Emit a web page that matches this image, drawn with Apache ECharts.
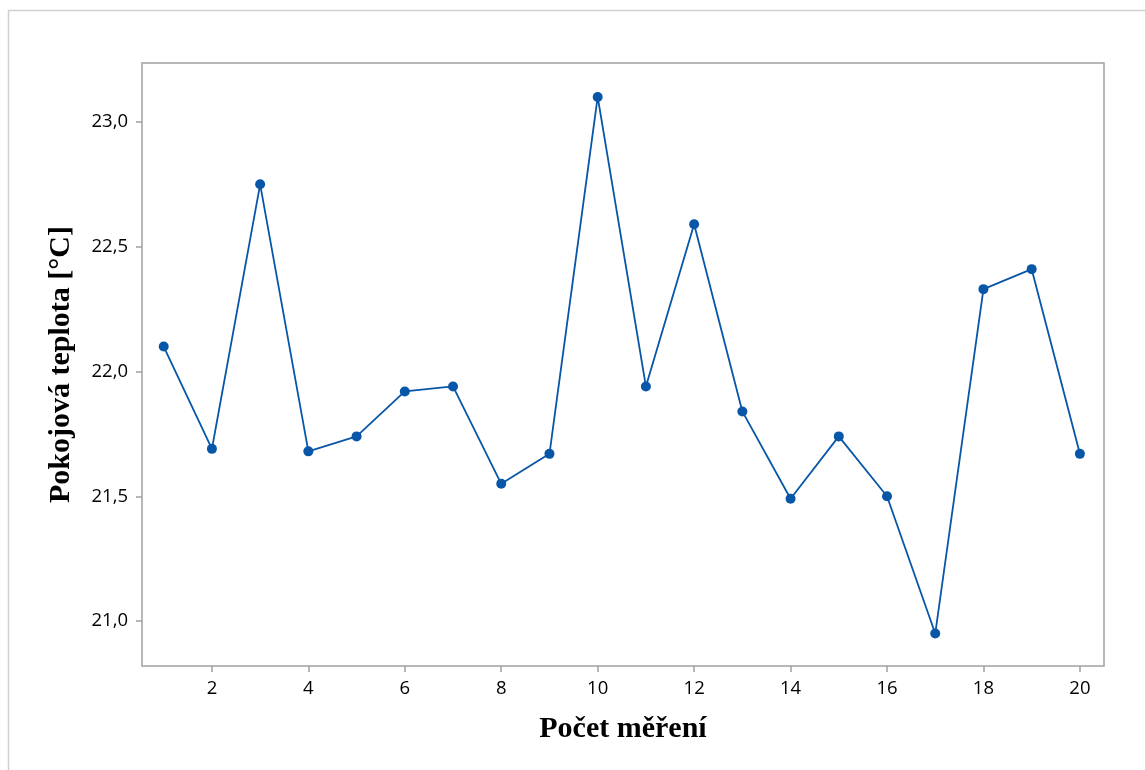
<!DOCTYPE html>
<html>
<head>
<meta charset="utf-8">
<script src="https://cdn.jsdelivr.net/npm/echarts@6/dist/echarts.min.js"></script>
<style>html,body{margin:0;padding:0;background:#fff}#c{width:1145px;height:770px}</style>
</head>
<body>
<div id="c"></div>
<script>
const xValues = [1,2,3,4,5,6,7,8,9,10,11,12,13,14,15,16,17,18,19,20];
const temps = [22.10,21.69,22.75,21.68,21.74,21.92,21.94,21.55,21.67,23.10,21.94,22.59,21.84,21.49,21.74,21.50,20.95,22.33,22.41,21.67];
const xTicks = [2,4,6,8,10,12,14,16,18,20];
const yTicks = [21.0,21.5,22.0,22.5,23.0];
const xTitle = 'Počet měření';
const yTitle = 'Pokojová teplota [°C]';

const chart = echarts.init(document.getElementById('c'));
const axisGray = '#a0a0a0';
const data = xValues.map((x,i)=>[x,temps[i]]);
const tickFont = {color:'#000',fontSize:18.5,fontWeight:500,fontFamily:'Open Sans, Noto Sans, sans-serif'};
const titleFont = {fontFamily:'Liberation Serif, Times New Roman, serif',fontWeight:'bold',fontSize:30,color:'#000'};
chart.setOption({
  animation:false,
  backgroundColor:'#fff',
  graphic:[{type:'rect',shape:{x:8.5,y:10.5,width:1200,height:800},style:{fill:'none',stroke:'#d0d0d0',lineWidth:1.5},silent:true}],
  grid:{left:142,top:63,right:41,bottom:104,show:true,borderColor:axisGray,borderWidth:1.5,backgroundColor:'transparent'},
  xAxis:{type:'value',min:0.55,max:20.5,
    axisLine:{show:false},splitLine:{show:false},
    axisTick:{show:true,length:6,lineStyle:{color:axisGray,width:1.5},customValues:xTicks},
    axisLabel:Object.assign({customValues:xTicks,margin:13},tickFont),
    name:xTitle,nameLocation:'middle',nameGap:48,
    nameTextStyle:titleFont},
  yAxis:{type:'value',min:20.82,max:23.236,
    axisLine:{show:false},splitLine:{show:false},
    axisTick:{show:true,length:6,lineStyle:{color:axisGray,width:1.5},customValues:yTicks},
    axisLabel:Object.assign({customValues:yTicks,margin:14,
      formatter:v=>v.toFixed(1).replace('.',',')},tickFont),
    name:yTitle,nameLocation:'middle',nameGap:66,
    nameTextStyle:titleFont},
  series:[{type:'line',data:data,symbol:'circle',symbolSize:10,
    lineStyle:{color:'#0856a8',width:1.8},itemStyle:{color:'#0856a8'}}]
});
</script>
</body>
</html>
